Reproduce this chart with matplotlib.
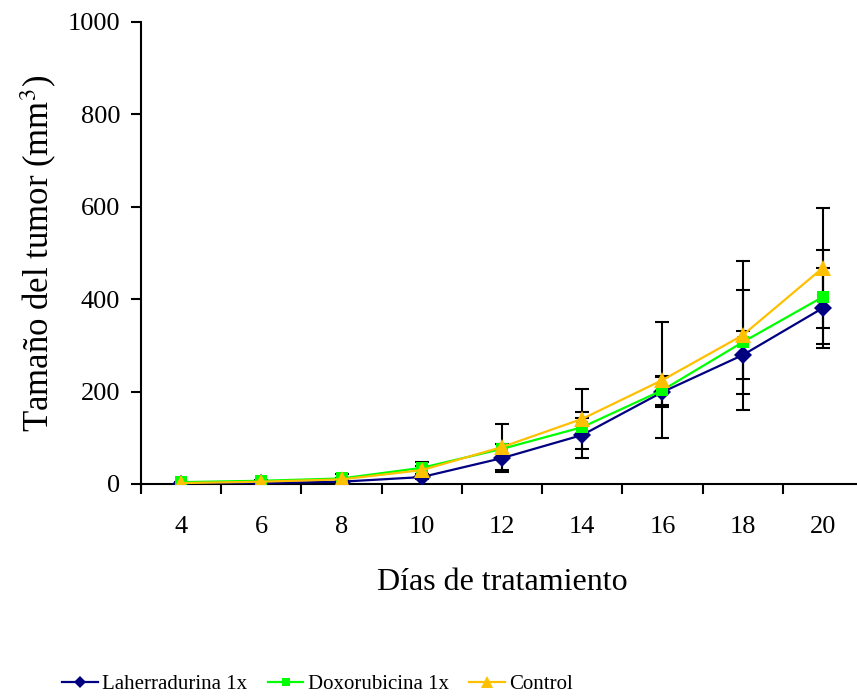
import matplotlib
matplotlib.use("Agg")
import matplotlib.pyplot as plt
import numpy as np

# days of treatment and mean tumour volume (mm3) per group
dias = [4, 6, 8, 10, 12, 14, 16, 18, 20]

laherradurina = [1, 2, 5, 15, 56, 106, 199, 279, 381]
laherradurina_err = [0, 1, 2, 5, 30, 50, 33, 52, 87]

doxorubicina = [4, 7, 12, 35, 76, 123, 203, 307, 405]
doxorubicina_err = [1, 2, 10, 13, 10, 20, 31, 113, 101]

control = [2, 5, 10, 30, 80, 141, 225, 322, 468]
control_err = [1, 2, 3, 8, 50, 65, 126, 161, 130]

series = [
    ("Laherradurina 1x", laherradurina, laherradurina_err, "#000080", "D", 9),
    ("Doxorubicina 1x", doxorubicina, doxorubicina_err, "#00FF00", "s", 9),
    ("Control", control, control_err, "#FFC000", "^", 12),
]

plt.rcParams["font.family"] = ["Liberation Serif", "DejaVu Serif"]
plt.rcParams["mathtext.fontset"] = "stix"

W, H = 857, 698
fig = plt.figure(figsize=(W / 100, H / 100), dpi=100)
# the category axis runs from 3 to 21 and is cut off at the right edge
ax = fig.add_axes([141 / W, (H - 484) / H, 722 / W, 462 / H])

handles = []
for name, vals, errs, color, marker, ms in series:
    ax.errorbar(dias, vals, yerr=errs, fmt="none", ecolor="black",
                elinewidth=1.5, capsize=5, capthick=1.5, zorder=2)
for name, vals, errs, color, marker, ms in series:
    h, = ax.plot(dias, vals, color=color, lw=1.6, marker=marker,
                 markersize=ms, markeredgewidth=0, label=name, zorder=3)
    handles.append(h)

ax.set_xlim(3, 21)
ax.set_ylim(0, 1000)
ax.set_xticks(dias)
ax.set_xticks(np.arange(3, 22, 2), minor=True)
ax.set_yticks(np.arange(0, 1001, 200))
ax.tick_params(axis="x", which="major", length=0, pad=23, labelsize=19)
ax.tick_params(axis="x", which="minor", length=7, width=1.5, direction="out")
ax.tick_params(axis="y", length=7, width=1.5, direction="out", pad=8,
               labelsize=19)

for side in ("top", "right"):
    ax.spines[side].set_visible(False)
for side in ("left", "bottom"):
    ax.spines[side].set_linewidth(1.5)
ax.spines["left"].set_bounds(-13, 1000)

ax.set_xlabel("Días de tratamiento", fontsize=23, labelpad=22)
ax.set_ylabel("Tamaño del tumor (mm$^{3}$)", fontsize=25, labelpad=6)

fig.legend(handles=handles, loc="center left",
           bbox_to_anchor=(52 / W, 14 / H), ncol=3, frameon=False,
           fontsize=15, handlelength=1.7, handletextpad=0.2,
           columnspacing=1.0, borderpad=0, markerscale=0.7)

fig.savefig("out.png", dpi=100)
